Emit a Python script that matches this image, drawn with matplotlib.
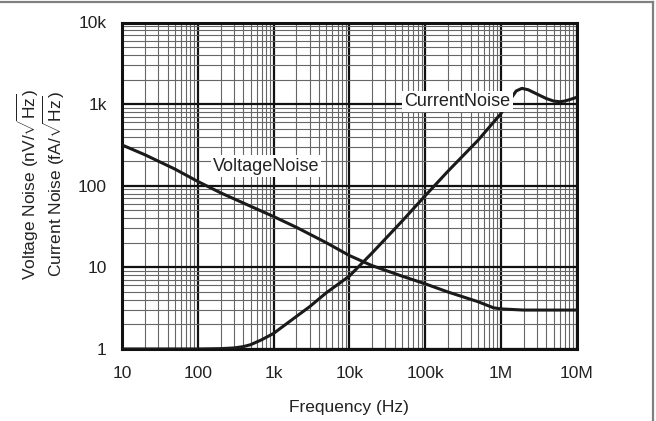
import matplotlib
matplotlib.use("Agg")
import matplotlib.pyplot as plt
from matplotlib.lines import Line2D
from matplotlib.ticker import LogLocator, FixedLocator, FixedFormatter, NullFormatter

plt.rcParams['font.family'] = ['Liberation Sans', 'DejaVu Sans']
plt.rcParams['mathtext.fontset'] = 'custom'
plt.rcParams['mathtext.rm'] = 'Liberation Sans'
plt.rcParams['mathtext.it'] = 'Liberation Sans:italic'

# Data
volt_freq = [10, 20, 50, 100, 200, 500, 1e3, 2e3, 5e3, 1e4, 2e4, 5e4, 1e5, 2e5, 5e5, 8e5, 1e6, 2e6, 5e6, 1e7]
volt_noise = [316, 240, 160, 113, 82, 56, 42, 31, 20, 14, 10.5, 7.8, 6.3, 5.0, 3.8, 3.2, 3.1, 3.0, 3.0, 3.0]

curr_freq = [10, 100, 200, 300, 400, 500, 700, 1e3, 2e3, 3e3, 5e3, 1e4, 2e4, 5e4, 1e5, 2e5, 5e5, 1e6,
             1.3e6, 1.6e6, 1.9e6, 2.3e6, 3e6, 4e6, 5e6, 6e6, 7e6, 8.5e6, 1e7]
curr_noise = [1.0, 1.0, 1.01, 1.03, 1.07, 1.13, 1.3, 1.55, 2.5, 3.3, 4.9, 7.8, 15, 37, 75, 150, 360, 760,
              1100, 1450, 1560, 1500, 1330, 1170, 1090, 1070, 1090, 1150, 1210]

x_ticks = [10, 100, 1e3, 1e4, 1e5, 1e6, 1e7]
x_tick_labels = ['10', '100', '1k', '10k', '100k', '1M', '10M']
y_ticks = [1, 10, 100, 1e3, 1e4]
y_tick_labels = ['1', '10', '100', '1k', '10k']

fig = plt.figure(figsize=(6.56, 4.21), dpi=100)
ax = fig.add_axes([122/656, 1 - 349/421, (576.5 - 122)/656, (349 - 22.5)/421])

ax.set_xscale('log')
ax.set_yscale('log')
ax.set_xlim(10, 1e7)
ax.set_ylim(1, 1e4)

ax.xaxis.set_major_locator(FixedLocator(x_ticks))
ax.xaxis.set_major_formatter(FixedFormatter(x_tick_labels))
ax.yaxis.set_major_locator(FixedLocator(y_ticks))
ax.yaxis.set_major_formatter(FixedFormatter(y_tick_labels))
ax.xaxis.set_minor_locator(LogLocator(base=10, subs=range(2, 10), numticks=20))
ax.yaxis.set_minor_locator(LogLocator(base=10, subs=range(2, 10), numticks=20))
ax.xaxis.set_minor_formatter(NullFormatter())
ax.yaxis.set_minor_formatter(NullFormatter())

ax.grid(True, which='minor', color='#666666', linewidth=0.8, zorder=1)
ax.grid(True, which='major', color='#111111', linewidth=1.6, zorder=1)
ax.set_axisbelow(True)

ax.tick_params(which='both', length=0, labelsize=12.5, colors='#222222')
ax.tick_params(axis='x', pad=12)
ax.tick_params(axis='y', pad=11)

for s in ax.spines.values():
    s.set_linewidth(2.2)
    s.set_color('#111111')

ax.plot(volt_freq, volt_noise, color='#1a1a1a', linewidth=2.2, zorder=3)
ax.plot(curr_freq, curr_noise, color='#1a1a1a', linewidth=2.2, zorder=3)

bbox = dict(facecolor='white', edgecolor='none', pad=1.5)
ax.text(10**2.90, 10**2.24, 'VoltageNoise', fontsize=13, color='#222222',
        ha='center', va='center', bbox=bbox, zorder=4)
ax.text(10**5.43, 10**3.03, 'CurrentNoise', fontsize=13, color='#222222',
        ha='center', va='center', bbox=bbox, zorder=4)

ax.set_xlabel('Frequency (Hz)', fontsize=12.5, color='#222222', labelpad=14)

fig.text(28/656, 1 - 184/421, r'Voltage Noise (nV/$\sqrt{\mathrm{Hz}}$)', rotation=90,
         fontsize=12.5, color='#222222', ha='center', va='center')
fig.text(54/656, 1 - 184/421, r'Current Noise (fA/$\sqrt{\mathrm{Hz}}$)', rotation=90,
         fontsize=12.5, color='#222222', ha='center', va='center')

# Outer border (top and right)
fig.add_artist(Line2D([0, 652.5/656], [1 - 1.5/421, 1 - 1.5/421], transform=fig.transFigure,
                      color='#808080', linewidth=1.6))
fig.add_artist(Line2D([652.5/656, 652.5/656], [0, 1 - 1.5/421], transform=fig.transFigure,
                      color='#808080', linewidth=1.6))

fig.savefig('out.png', dpi=100)
